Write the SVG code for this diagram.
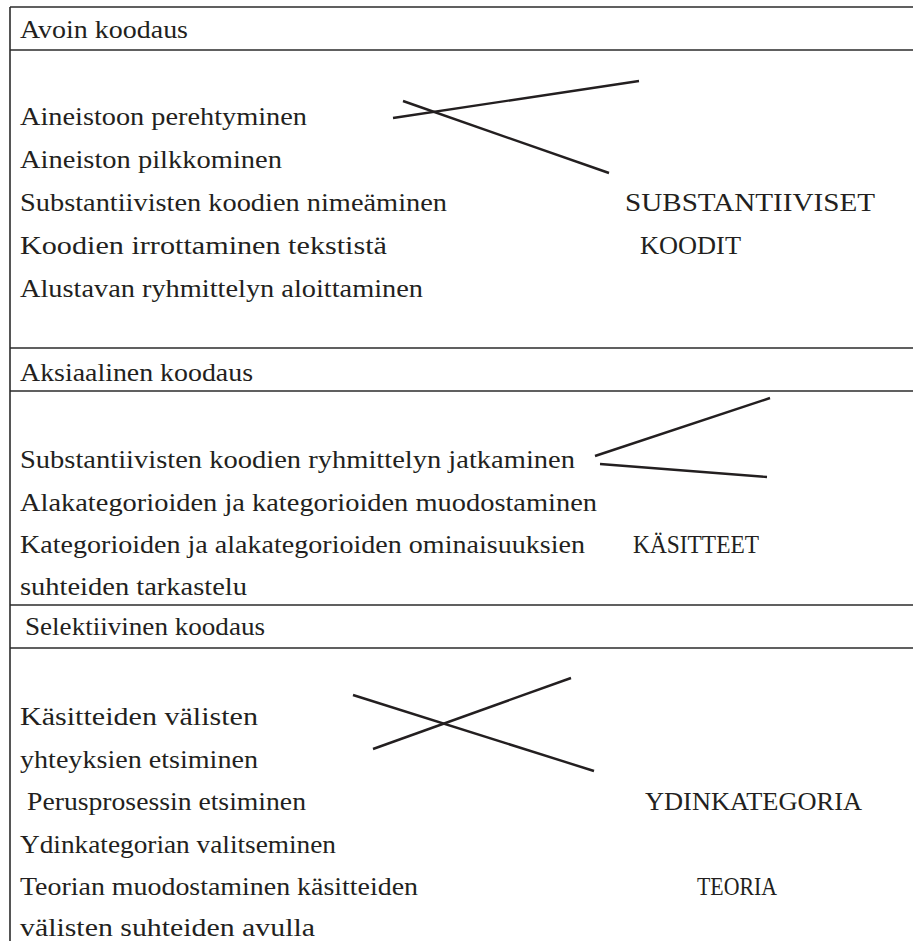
<svg xmlns="http://www.w3.org/2000/svg" width="913" height="941" viewBox="0 0 913 941">
  <style>
    .rule { stroke: #2b2b2b; stroke-width: 1.6; fill: none; }
    .t { font-family: 'Liberation Serif', serif; font-size: 25px; fill: #231f20; }
    .stroke { stroke: #231f20; stroke-width: 2.4; stroke-linecap: butt; fill: none; }
  </style>
  <rect width="913" height="941" fill="#ffffff"/>

  <!-- table frame -->
  <g id="frame">
    <line class="rule" x1="10" y1="7" x2="913" y2="7"/>
    <line class="rule" x1="10" y1="7" x2="10" y2="941"/>
    <line class="rule" x1="10" y1="50" x2="913" y2="50"/>
    <line class="rule" x1="10" y1="348" x2="913" y2="348"/>
    <line class="rule" x1="10" y1="391" x2="913" y2="391"/>
    <line class="rule" x1="10" y1="605" x2="913" y2="605"/>
    <line class="rule" x1="10" y1="648" x2="913" y2="648"/>
  </g>

  <!-- open coding -->
  <g id="avoin-koodaus">
    <text class="t" x="20" y="38" textLength="168" lengthAdjust="spacingAndGlyphs">Avoin koodaus</text>
    <text class="t" x="20" y="125" textLength="287" lengthAdjust="spacingAndGlyphs">Aineistoon perehtyminen</text>
    <text class="t" x="20" y="168" textLength="262" lengthAdjust="spacingAndGlyphs">Aineiston pilkkominen</text>
    <text class="t" x="20" y="211" textLength="427" lengthAdjust="spacingAndGlyphs">Substantiivisten koodien nimeäminen</text>
    <text class="t" x="20" y="254" textLength="367" lengthAdjust="spacingAndGlyphs">Koodien irrottaminen tekstistä</text>
    <text class="t" x="20" y="297" textLength="403" lengthAdjust="spacingAndGlyphs">Alustavan ryhmittelyn aloittaminen</text>
    <text class="t" x="625" y="211" textLength="250" lengthAdjust="spacingAndGlyphs">SUBSTANTIIVISET</text>
    <text class="t" x="640" y="254" textLength="101" lengthAdjust="spacingAndGlyphs">KOODIT</text>
  </g>

  <!-- axial coding -->
  <g id="aksiaalinen-koodaus">
    <text class="t" x="20" y="381" textLength="233" lengthAdjust="spacingAndGlyphs">Aksiaalinen koodaus</text>
    <text class="t" x="20" y="468" textLength="555" lengthAdjust="spacingAndGlyphs">Substantiivisten koodien ryhmittelyn jatkaminen</text>
    <text class="t" x="20" y="511" textLength="577" lengthAdjust="spacingAndGlyphs">Alakategorioiden ja kategorioiden muodostaminen</text>
    <text class="t" x="20" y="553" textLength="565" lengthAdjust="spacingAndGlyphs">Kategorioiden ja alakategorioiden ominaisuuksien</text>
    <text class="t" x="20" y="595" textLength="227" lengthAdjust="spacingAndGlyphs">suhteiden tarkastelu</text>
    <text class="t" x="633" y="553" textLength="126" lengthAdjust="spacingAndGlyphs">KÄSITTEET</text>
  </g>

  <!-- selective coding -->
  <g id="selektiivinen-koodaus">
    <text class="t" x="25" y="635" textLength="240" lengthAdjust="spacingAndGlyphs">Selektiivinen koodaus</text>
    <text class="t" x="20" y="725" textLength="238" lengthAdjust="spacingAndGlyphs">Käsitteiden välisten</text>
    <text class="t" x="20" y="768" textLength="238" lengthAdjust="spacingAndGlyphs">yhteyksien etsiminen</text>
    <text class="t" x="27" y="810" textLength="279" lengthAdjust="spacingAndGlyphs">Perusprosessin etsiminen</text>
    <text class="t" x="20" y="853" textLength="316" lengthAdjust="spacingAndGlyphs">Ydinkategorian valitseminen</text>
    <text class="t" x="20" y="895" textLength="398" lengthAdjust="spacingAndGlyphs">Teorian muodostaminen käsitteiden</text>
    <text class="t" x="20" y="936" textLength="295" lengthAdjust="spacingAndGlyphs">välisten suhteiden avulla</text>
    <text class="t" x="645" y="810" textLength="217" lengthAdjust="spacingAndGlyphs">YDINKATEGORIA</text>
    <text class="t" x="697" y="895" textLength="80" lengthAdjust="spacingAndGlyphs">TEORIA</text>
  </g>

  <!-- connecting strokes -->
  <g id="connectors">
    <line class="stroke" x1="393" y1="118" x2="639" y2="81"/>
    <line class="stroke" x1="403" y1="101" x2="609" y2="173"/>
    <line class="stroke" x1="595" y1="456" x2="770" y2="398"/>
    <line class="stroke" x1="600" y1="464" x2="767" y2="477"/>
    <line class="stroke" x1="353" y1="695" x2="594" y2="771"/>
    <line class="stroke" x1="373" y1="749" x2="571" y2="678"/>
  </g>
</svg>
